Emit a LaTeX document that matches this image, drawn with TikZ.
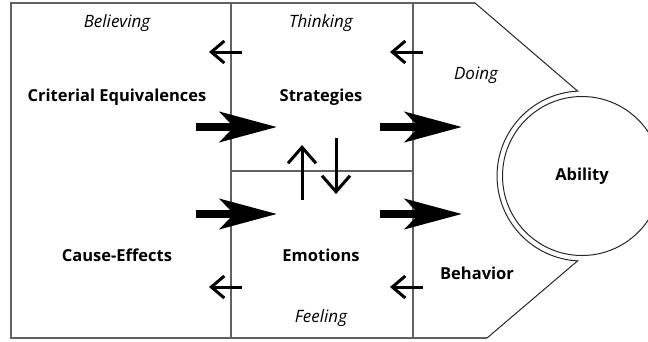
\documentclass[tikz,border=0pt]{standalone}
\usepackage{fontspec}
\setmainfont{Open Sans}
\usetikzlibrary{arrows.meta}

\begin{document}
\begin{tikzpicture}[x=1pt,y=-1pt,
  frame/.style={draw=black!62, line width=1.4pt},
  outline/.style={draw=black!85, line width=1pt},
  thinarrow/.style={line width=3pt, -{Straight Barb[length=13pt,width=22pt,line width=3pt]}},
  fatarrow/.style={line width=8.5pt, -{Stealth[length=57pt,width=30pt,inset=14pt]}},
  vertarrow/.style={line width=3pt, -{Straight Barb[length=16pt,width=28pt,line width=3pt]}},
  lbl/.style={font=\bfseries\fontsize{16.5}{18}\selectfont, inner sep=0pt},
  mode/.style={font=\itshape\fontsize{17}{19}\selectfont, inner sep=0pt}]

\useasboundingbox (0,0) rectangle (648,341);

% grid of the four fields
\draw[frame] (475,3) -- (11,3) -- (11,338) -- (487,338);
\draw[frame] (231,3) -- (231,338);
\draw[frame] (413,3) -- (413,338);
\draw[frame] (231,171) -- (413,171);

% the ability circle and the "doing" field wrapped around it
\node[draw=black!85, line width=1pt, circle, minimum size=159pt, inner sep=0pt,
      font=\bfseries\fontsize{16.5}{18}\selectfont] (ability) at (582,176) {Ability};
\draw[outline] (475,3) -- (577.6,91.1)
  arc (267:93:85) -- (487,338);

% labels
\node[mode] (believing) at (117,23) {Believing};
\node[mode] (thinking)  at (321,23) {Thinking};
\node[mode] (doing)     at (476,75) {Doing};
\node[mode] (feeling)   at (321,318) {Feeling};
\node[lbl] (criterial)  at (117,97) {Criterial Equivalences};
\node[lbl] (strategies) at (321,97) {Strategies};
\node[lbl] (causeeff)   at (117,255) {Cause-Effects};
\node[lbl] (emotions)   at (321,255) {Emotions};
\node[lbl] (behavior)   at (477,273) {Behavior};

% arrow end points
\coordinate (tl1) at (242,52);  \coordinate (tl2) at (209,52);
\coordinate (tr1) at (423,52);  \coordinate (tr2) at (390,52);
\coordinate (bl1) at (242,287); \coordinate (bl2) at (209,287);
\coordinate (br1) at (423,287); \coordinate (br2) at (390,287);

\coordinate (ftl1) at (196,127); \coordinate (ftl2) at (277,127);
\coordinate (ftr1) at (380,127); \coordinate (ftr2) at (462,127);
\coordinate (fbl1) at (196,214); \coordinate (fbl2) at (277,214);
\coordinate (fbr1) at (380,214); \coordinate (fbr2) at (462,214);

\coordinate (up1) at (302,200);  \coordinate (up2) at (302,145);
\coordinate (dn1) at (336,138);  \coordinate (dn2) at (336,194);

% feedback arrows
\draw[thinarrow] (tl1) -- (tl2);
\draw[thinarrow] (tr1) -- (tr2);
\draw[thinarrow] (bl1) -- (bl2);
\draw[thinarrow] (br1) -- (br2);

% forward arrows
\draw[fatarrow] (ftl1) -- (ftl2);
\draw[fatarrow] (ftr1) -- (ftr2);
\draw[fatarrow] (fbl1) -- (fbl2);
\draw[fatarrow] (fbr1) -- (fbr2);

% exchange between strategies and emotions
\draw[vertarrow] (up1) -- (up2);
\draw[vertarrow] (dn1) -- (dn2);
\end{tikzpicture}
\end{document}
